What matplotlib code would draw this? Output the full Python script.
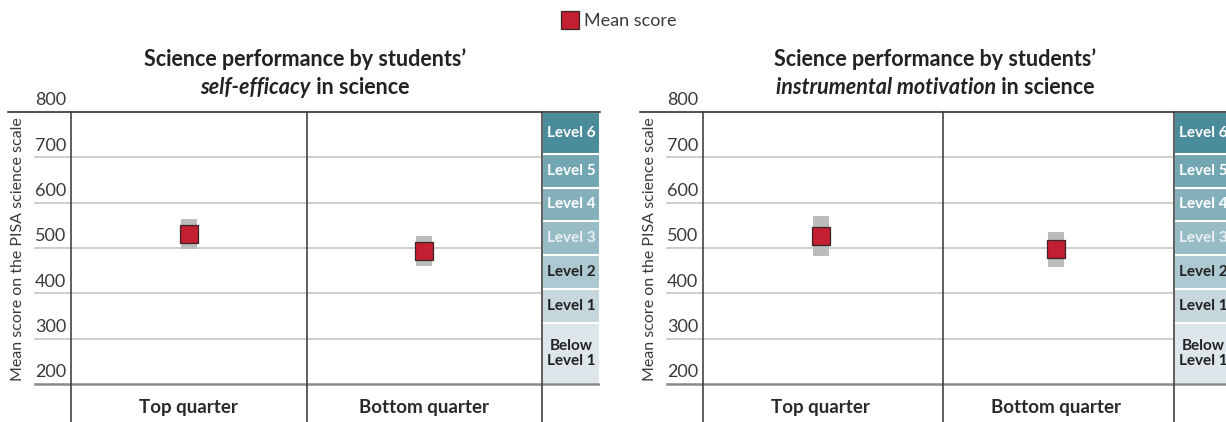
import matplotlib
matplotlib.use("Agg")
import matplotlib.pyplot as plt
from matplotlib.lines import Line2D

plt.rcParams['font.family'] = ['Lato', 'DejaVu Sans']

# score data
categories = ["Top quarter", "Bottom quarter"]
selfeff_mean = [531, 494]
selfeff_low = [498, 461]
selfeff_high = [564, 527]
instr_mean = [527, 497]
instr_low = [483, 457]
instr_high = [571, 536]

ticks = [200, 300, 400, 500, 600, 700, 800]

# PISA science proficiency levels
level_names = ["Below\nLevel 1", "Level 1", "Level 2", "Level 3", "Level 4", "Level 5", "Level 6"]
level_edges = [200, 334.94, 409.54, 484.14, 558.73, 633.33, 707.93, 800]
level_colors = ["#dde6ea", "#c6d7dd", "#adc8d0", "#97bcc6", "#84b0bb", "#72a6b3", "#4a8c9a"]
level_text = ["#222222", "#222222", "#222222", "#e9f0f2", "white", "white", "white"]

W, H = 1226, 422
RED = "#c41e32"
DARK = "#333333"

fig = plt.figure(figsize=(W / 100, H / 100), dpi=100)

col_px = 235.5
xmin = -0.5 - 63 / col_px
xgrid = -0.5 - 36 / col_px
bar_w = 58 / col_px
xmax = 1.5 + bar_w
ymin = 200 - 38 / (272 / 600)


def panel(left_px, means, lows, highs, mid=0.5):
    ax = fig.add_axes([left_px / W, 0, 592 / W, (H - 112) / H])
    ax.set_xlim(xmin, xmax)
    ax.set_ylim(ymin, 800)
    ax.axis("off")

    for t in ticks[1:-1]:
        ax.plot([xgrid, 1.5], [t, t], color="#c9ccc5", lw=1.3, zorder=1)
    ax.plot([xgrid, xmax], [200, 200], color="#8a8a8a", lw=1.8, zorder=3)
    ax.plot([xmin, xmax], [800, 800], color=DARK, lw=1.2, zorder=3, clip_on=False)
    for t in ticks:
        ax.text(xgrid, t + 8, str(t), fontsize=13, color="#3a3a3a",
                ha="left", va="bottom")

    for xv in [-0.5, mid, 1.5]:
        ax.plot([xv, xv], [ymin, 800], color=DARK, lw=1.1, zorder=3, clip_on=False)

    # proficiency level scale
    for i, name in enumerate(level_names):
        lo, hi = level_edges[i], level_edges[i + 1]
        ax.bar(1.5, hi - lo, bottom=lo, width=bar_w, align="edge",
               color=level_colors[i], edgecolor="white", lw=1.5, zorder=2)
        ax.text(1.5 + bar_w / 2, (lo + hi) / 2, name, ha="center", va="center",
                fontsize=11, fontweight="bold", color=level_text[i],
                linespacing=1.15, zorder=4)

    xs = range(len(categories))
    ax.bar(xs, [h - l for h, l in zip(highs, lows)], bottom=lows,
           width=16 / col_px, color="#bcbcbc", zorder=4)
    ax.scatter(xs, means, marker="s", s=150, color=RED,
               edgecolor="#3a2424", linewidth=0.9, zorder=5)
    for i, c in enumerate(categories):
        ax.text(i, 200 - 24 / (272 / 600), c, ha="center", va="center",
                fontsize=13.5, fontweight="bold", color="#2a2a2a")
    return ax


panel(8, selfeff_mean, selfeff_low, selfeff_high)
panel(640, instr_mean, instr_low, instr_high, mid=0.52)

for xpx in [18, 650]:
    fig.text(xpx / W, 1 - 249 / H, "Mean score on the PISA science scale",
             rotation=90, ha="center", va="center", fontsize=11.5, color="#3a3a3a")


def title(cx_px, italic_part, rest):
    fig.text(cx_px / W, 1 - 59 / H, "Science performance by students\u2019",
             ha="center", va="center", fontsize=15.5, fontweight="bold", color="#222222")
    y = 1 - 88 / H
    t1 = fig.text(0, y, italic_part, ha="left", va="center", fontsize=15.5,
                  fontweight="bold", style="italic", color="#222222")
    t2 = fig.text(0, y, " " + rest, ha="left", va="center", fontsize=15.5,
                  fontweight="bold", color="#222222")
    r = fig.canvas.get_renderer()
    w1 = t1.get_window_extent(r).width
    w2 = t2.get_window_extent(r).width
    x0 = cx_px - (w1 + w2) / 2
    t1.set_x(x0 / W)
    t2.set_x((x0 + w1) / W)


title(305, "self-efficacy", "in science")
title(935, "instrumental motivation", "in science")

handle = Line2D([], [], marker="s", linestyle="none", markersize=13.5,
                markerfacecolor=RED, markeredgecolor="#3a2424", markeredgewidth=0.9)
fig.legend([handle], ["Mean score"], loc="center", bbox_to_anchor=(619 / W, 1 - 21 / H),
           frameon=False, fontsize=13, handletextpad=0.3, handlelength=1.0,
           labelcolor="#3a3a3a")

fig.savefig("out.png", dpi=100)
